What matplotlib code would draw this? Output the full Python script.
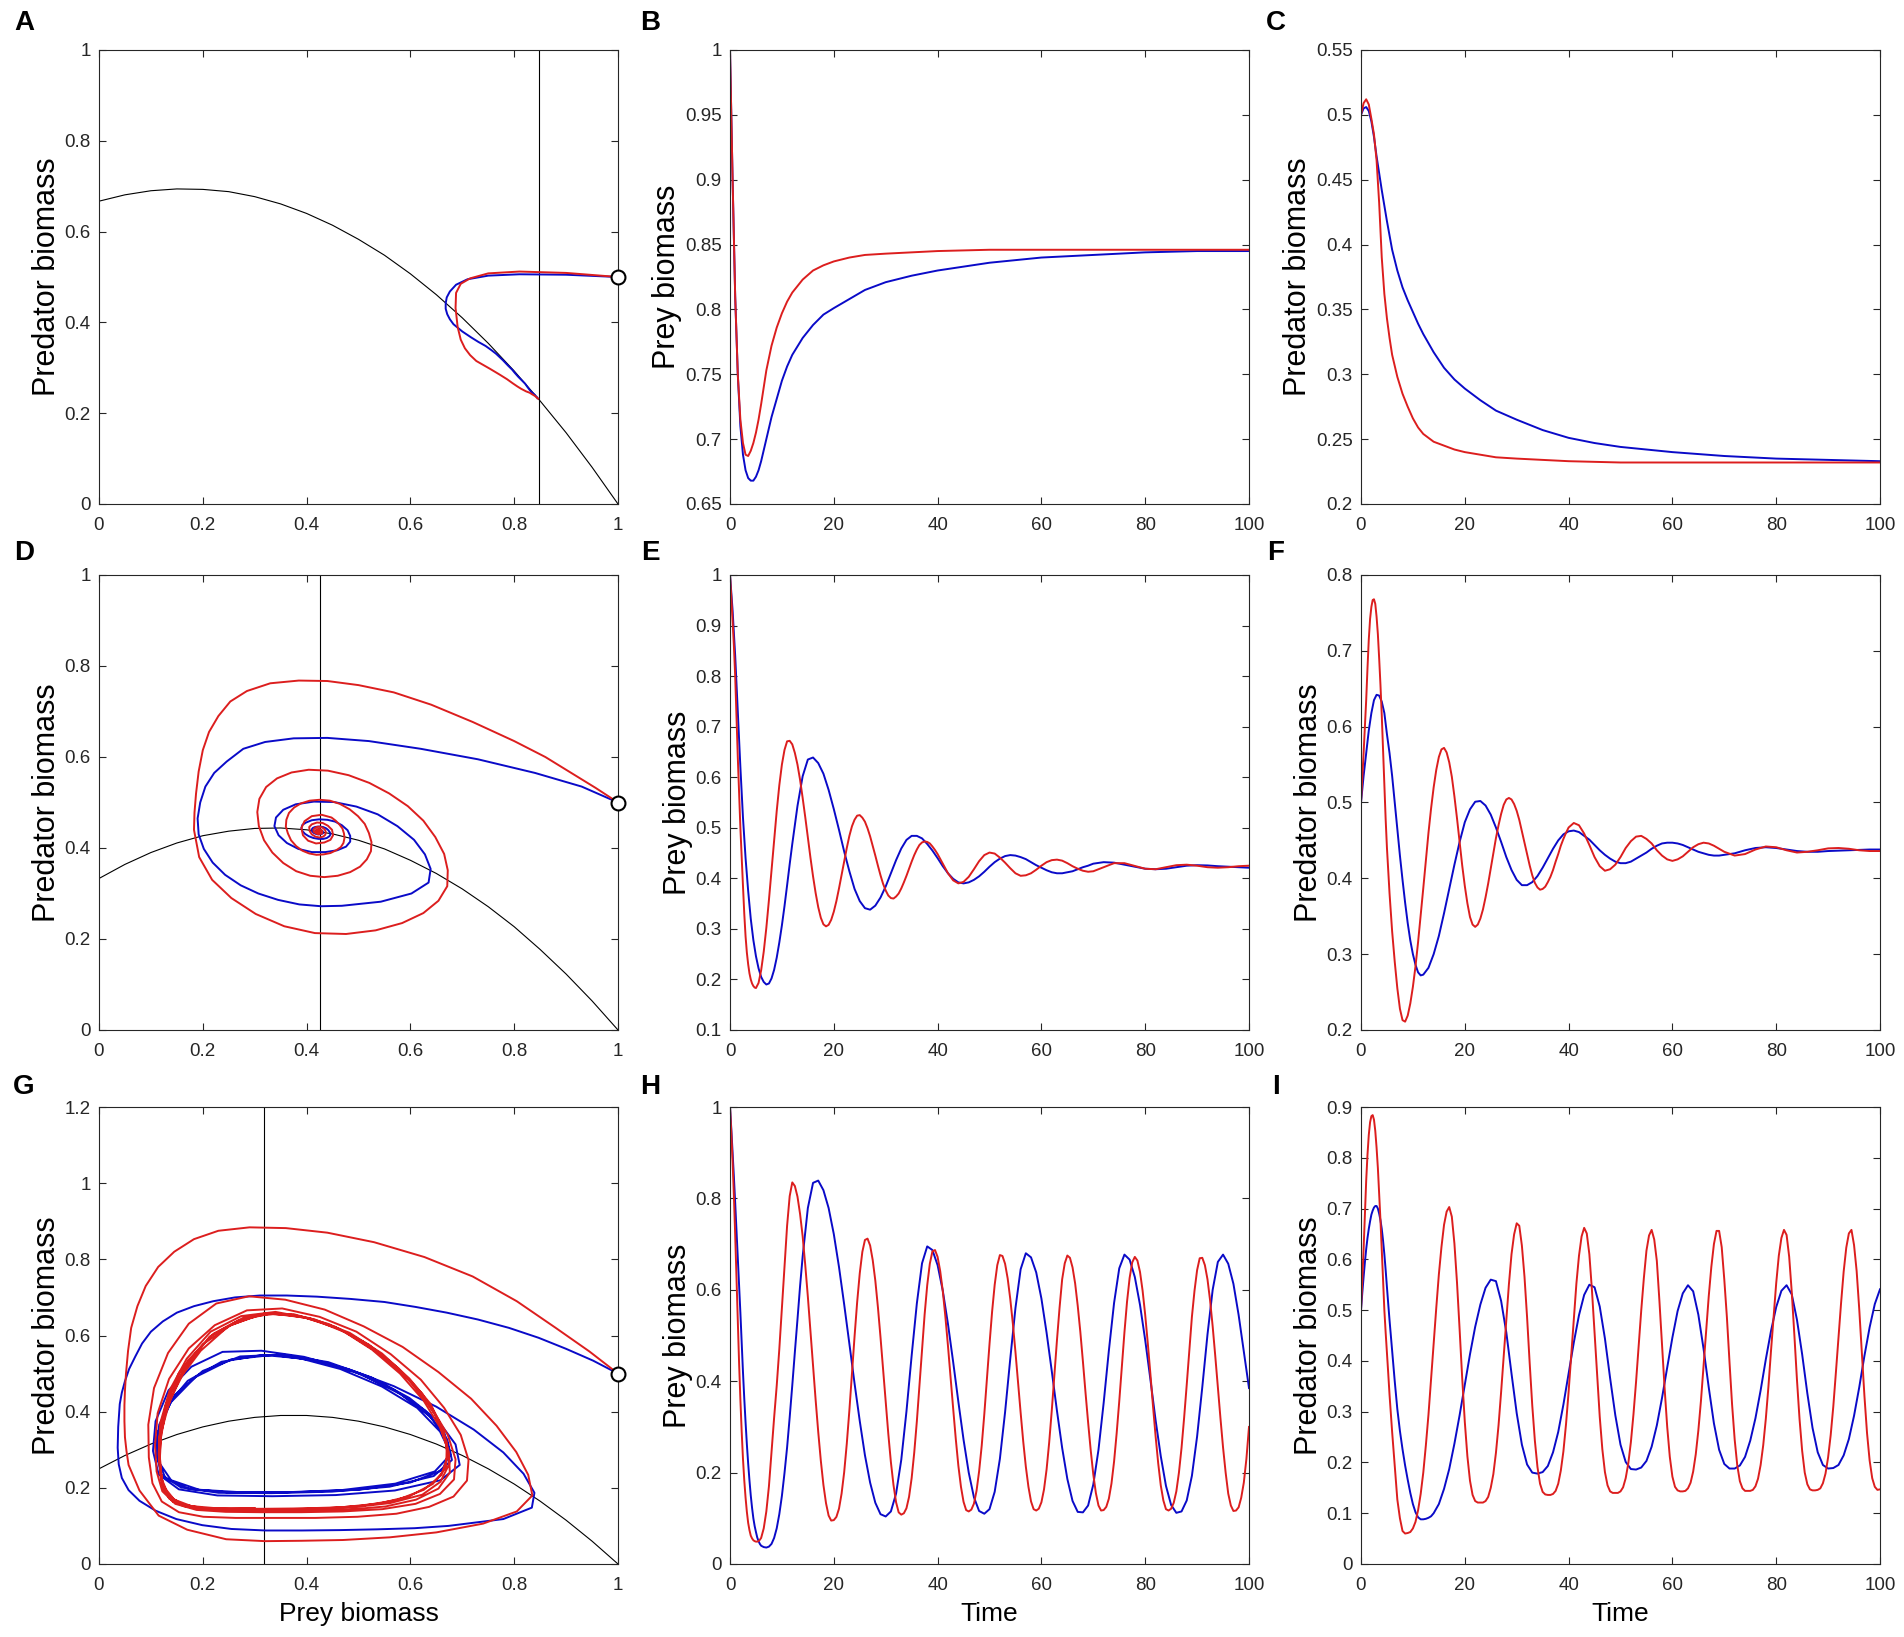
import numpy as np
import matplotlib
matplotlib.use("Agg")
import matplotlib.pyplot as plt
from matplotlib.ticker import FuncFormatter

plt.rcParams['font.family'] = ['Liberation Sans', 'DejaVu Sans']

RED = '#dc1e1e'
BLUE = '#0a0ac8'
DARK = '#262626'

# ---------------- data ----------------
# prey nullcline, sampled every 0.05 on the prey axis
null_x = [0, 0.05, 0.1, 0.15, 0.2, 0.25, 0.3, 0.35, 0.4, 0.45, 0.5,
          0.55, 0.6, 0.65, 0.7, 0.75, 0.8, 0.85, 0.9, 0.95, 1.0]
null_y1 = [0.667, 0.681, 0.69, 0.694, 0.693, 0.688, 0.677, 0.661, 0.64, 0.614, 0.583,
           0.548, 0.507, 0.461, 0.41, 0.354, 0.293, 0.227, 0.157, 0.081, 0.0]
null_y2 = [0.333, 0.364, 0.39, 0.411, 0.427, 0.437, 0.443, 0.444, 0.44, 0.431, 0.417,
           0.398, 0.373, 0.344, 0.31, 0.271, 0.227, 0.177, 0.123, 0.064, 0.0]
null_y3 = [0.25, 0.285, 0.315, 0.34, 0.36, 0.375, 0.385, 0.39, 0.39, 0.385, 0.375,
           0.36, 0.34, 0.315, 0.285, 0.25, 0.21, 0.165, 0.115, 0.06, 0.0]
pred_null_x = [0.847, 0.425, 0.318]   # vertical (predator) nullclines

# ---- row 1 (A, B, C) ----
t1 = [0, 0.5, 1, 1.5, 2, 2.5, 3, 3.5, 4, 4.5, 5, 5.5, 6, 7, 8, 9, 10, 11, 12,
      14, 16, 18, 20, 23, 26, 30, 35, 40, 45, 50, 60, 70, 80, 90, 100]
prey1_red = [1.0, 0.90, 0.81, 0.75, 0.715, 0.697, 0.688, 0.687, 0.691, 0.697, 0.705,
             0.715, 0.727, 0.753, 0.772, 0.786, 0.797, 0.806, 0.813, 0.823, 0.83,
             0.834, 0.837, 0.84, 0.842, 0.843, 0.844, 0.845, 0.8455, 0.846, 0.846,
             0.846, 0.846, 0.846, 0.846]
pred1_red = [0.5, 0.509, 0.512, 0.508, 0.497, 0.485, 0.465, 0.432, 0.39, 0.362, 0.343,
             0.328, 0.315, 0.298, 0.285, 0.275, 0.266, 0.259, 0.254, 0.248, 0.245,
             0.242, 0.24, 0.238, 0.236, 0.235, 0.234, 0.233, 0.2325, 0.232, 0.232,
             0.232, 0.232, 0.232, 0.232]
prey1_blue = [1.0, 0.90, 0.81, 0.75, 0.71, 0.688, 0.676, 0.67, 0.668, 0.668, 0.671,
              0.676, 0.683, 0.70, 0.717, 0.731, 0.745, 0.756, 0.765, 0.778, 0.788,
              0.796, 0.801, 0.808, 0.815, 0.821, 0.826, 0.83, 0.833, 0.836, 0.84,
              0.842, 0.844, 0.845, 0.845]
pred1_blue = [0.5, 0.505, 0.506, 0.503, 0.495, 0.483, 0.468, 0.455, 0.442, 0.43, 0.418,
              0.407, 0.396, 0.38, 0.367, 0.357, 0.348, 0.339, 0.331, 0.317, 0.305,
              0.296, 0.289, 0.28, 0.272, 0.265, 0.257, 0.251, 0.247, 0.244, 0.24,
              0.237, 0.235, 0.234, 0.233]

# ---- row 2 (D, E, F) ----
t2_red = np.concatenate([np.arange(0, 5.25, 0.25), np.arange(5.5, 40.5, 0.5),
                         np.arange(41, 71), np.arange(72, 101, 2)])
prey2_red = [1.0, 0.957, 0.91, 0.86, 0.80, 0.72, 0.64, 0.568, 0.50, 0.44, 0.385, 0.33,
             0.285, 0.253, 0.23, 0.212, 0.2, 0.192, 0.187, 0.184, 0.183,
             0.193, 0.218, 0.255, 0.302, 0.357, 0.416, 0.476, 0.533, 0.584, 0.625,
             0.654, 0.671, 0.672, 0.665,
             0.648, 0.625, 0.595, 0.559, 0.521, 0.481, 0.441, 0.404, 0.371, 0.343,
             0.322, 0.309, 0.305, 0.308, 0.318, 0.334, 0.355, 0.38, 0.407, 0.434,
             0.46, 0.484, 0.503, 0.516, 0.524, 0.525, 0.52, 0.512, 0.499, 0.483,
             0.464, 0.445, 0.425, 0.406, 0.389, 0.376, 0.366, 0.361, 0.36, 0.364,
             0.37, 0.38, 0.392, 0.405, 0.419, 0.433, 0.446, 0.457, 0.466, 0.471,
             0.473, 0.472, 0.469, 0.463, 0.456, 0.448,
             0.429, 0.41, 0.396, 0.39, 0.393, 0.403, 0.418, 0.434, 0.446, 0.451,
             0.449, 0.441, 0.431, 0.42, 0.41, 0.405, 0.406, 0.41, 0.417, 0.425,
             0.432, 0.436, 0.437, 0.435, 0.43, 0.424, 0.419, 0.415, 0.413, 0.414,
             0.422, 0.43, 0.43, 0.4245, 0.419, 0.418, 0.422, 0.426, 0.427, 0.425,
             0.422, 0.421, 0.422, 0.424, 0.425]
pred2_red = [0.5, 0.532, 0.565, 0.6, 0.635, 0.677, 0.715, 0.742, 0.758, 0.767, 0.768,
             0.762, 0.745, 0.722, 0.69, 0.655, 0.615, 0.568, 0.52, 0.478, 0.44,
             0.38, 0.33, 0.29, 0.255, 0.228, 0.213, 0.211, 0.219, 0.235, 0.257,
             0.284, 0.316, 0.351, 0.387,
             0.424, 0.46, 0.492, 0.52, 0.543, 0.56, 0.57, 0.572, 0.566, 0.553,
             0.534, 0.508, 0.479, 0.448, 0.417, 0.39, 0.367, 0.349, 0.339, 0.336,
             0.339, 0.347, 0.359, 0.375, 0.393, 0.413, 0.433, 0.453, 0.47, 0.485,
             0.497, 0.504, 0.506, 0.504, 0.498, 0.489, 0.477, 0.462, 0.447, 0.432,
             0.417, 0.404, 0.394, 0.388, 0.385, 0.386, 0.389, 0.395, 0.402, 0.411,
             0.422, 0.432, 0.443, 0.452, 0.46, 0.467,
             0.473, 0.47, 0.459, 0.444, 0.428, 0.416, 0.41, 0.412, 0.418, 0.428,
             0.44, 0.449, 0.455, 0.456, 0.452, 0.446, 0.437, 0.43, 0.425, 0.423,
             0.425, 0.429, 0.435, 0.441, 0.445, 0.447, 0.446, 0.443, 0.439, 0.435,
             0.43, 0.432, 0.438, 0.442, 0.441, 0.437, 0.434, 0.435, 0.437, 0.4395,
             0.44, 0.439, 0.437, 0.436, 0.436]

t2_blue = np.concatenate([np.arange(0, 12.5, 0.5), np.arange(13, 71), np.arange(72, 101, 2)])
prey2_blue = [1.0, 0.93, 0.84, 0.73, 0.62, 0.52, 0.44, 0.375, 0.32, 0.278, 0.246, 0.222,
              0.205, 0.195, 0.19, 0.192, 0.202, 0.219, 0.243, 0.273, 0.307, 0.345, 0.386,
              0.428, 0.468,
              0.543, 0.602, 0.635, 0.639, 0.628, 0.607, 0.575, 0.537, 0.496, 0.453,
              0.414, 0.379, 0.355, 0.341, 0.338, 0.346, 0.362, 0.384, 0.41, 0.436,
              0.459, 0.476, 0.484, 0.484, 0.479, 0.468, 0.455, 0.44, 0.424, 0.41,
              0.399, 0.392, 0.39, 0.392, 0.397, 0.404, 0.413, 0.423, 0.432, 0.439,
              0.444, 0.446, 0.445, 0.442, 0.438, 0.432, 0.426, 0.421, 0.416, 0.412,
              0.41, 0.41, 0.412, 0.414, 0.418, 0.422, 0.425, 0.429,
              0.432, 0.431, 0.427, 0.423, 0.419, 0.418, 0.419, 0.422, 0.425, 0.426,
              0.4255, 0.424, 0.423, 0.422, 0.421]
pred2_blue = [0.5, 0.535, 0.565, 0.595, 0.618, 0.635, 0.642, 0.641, 0.633, 0.618, 0.59,
              0.565, 0.535, 0.5, 0.465, 0.43, 0.398, 0.368, 0.341, 0.318, 0.3, 0.286,
              0.276, 0.272, 0.273,
              0.282, 0.3, 0.324, 0.354, 0.386, 0.418, 0.448, 0.474, 0.491, 0.501,
              0.502, 0.496, 0.484, 0.467, 0.448, 0.428, 0.411, 0.398, 0.391, 0.391,
              0.395, 0.403, 0.414, 0.4265, 0.439, 0.45, 0.458, 0.462, 0.463, 0.461,
              0.456, 0.451, 0.444, 0.437, 0.431, 0.426, 0.422, 0.42, 0.42, 0.422,
              0.426, 0.43, 0.434, 0.439, 0.443, 0.446, 0.447, 0.447, 0.446, 0.444,
              0.441, 0.438, 0.435, 0.433, 0.431, 0.43, 0.43, 0.431,
              0.433, 0.437, 0.44, 0.441, 0.44, 0.438, 0.436, 0.435, 0.435, 0.436,
              0.4365, 0.437, 0.4375, 0.438, 0.438]

# ---- row 3 (G, H, I) ----
t3_red = np.concatenate([np.arange(0, 6.25, 0.25), np.arange(6.5, 100.5, 0.5)])
prey3_red = [1.0, 0.945, 0.88, 0.805, 0.72, 0.627, 0.53, 0.44, 0.36, 0.29, 0.23, 0.183,
             0.145, 0.114, 0.09, 0.074, 0.062, 0.056, 0.052, 0.05, 0.049, 0.049, 0.05,
             0.053, 0.057,
             0.078, 0.115, 0.17, 0.245, 0.32, 0.39, 0.47, 0.56, 0.65, 0.74, 0.805,
             0.835, 0.827, 0.804, 0.766, 0.717,
             0.654, 0.585, 0.51, 0.435, 0.359, 0.289, 0.226, 0.173, 0.133, 0.106,
             0.095, 0.096, 0.103, 0.121, 0.154, 0.201, 0.263, 0.336, 0.417, 0.498,
             0.573, 0.636, 0.683, 0.709, 0.712, 0.697, 0.665, 0.62, 0.562, 0.496,
             0.425, 0.353, 0.285, 0.223, 0.173, 0.135, 0.113, 0.108, 0.111, 0.122,
             0.147, 0.188, 0.244, 0.312, 0.39, 0.47, 0.546, 0.61, 0.657, 0.684,
             0.687, 0.672, 0.641, 0.597, 0.541, 0.477, 0.408, 0.34, 0.274, 0.215,
             0.169, 0.136, 0.118, 0.115, 0.119, 0.132, 0.16, 0.203, 0.259, 0.328,
             0.404, 0.481, 0.552, 0.611, 0.654, 0.676, 0.674, 0.657, 0.625, 0.58,
             0.526, 0.464, 0.397, 0.331, 0.268, 0.213, 0.169, 0.137, 0.12, 0.117,
             0.121, 0.135, 0.163, 0.207, 0.266, 0.336, 0.413, 0.49, 0.561, 0.623,
             0.658, 0.675, 0.67, 0.649, 0.614, 0.565, 0.508, 0.443, 0.375, 0.31,
             0.249, 0.196, 0.155, 0.128, 0.117, 0.118, 0.125, 0.143, 0.176, 0.224,
             0.286, 0.356, 0.433, 0.507, 0.574, 0.626, 0.66, 0.672, 0.664, 0.639,
             0.598, 0.545, 0.483, 0.416, 0.346, 0.28, 0.221, 0.172, 0.139, 0.12,
             0.117, 0.121, 0.134, 0.159, 0.2, 0.254, 0.32, 0.392, 0.468, 0.541,
             0.598, 0.643, 0.669, 0.67, 0.654, 0.623, 0.577, 0.52, 0.455, 0.387,
             0.319, 0.255, 0.2, 0.154, 0.128, 0.116, 0.117, 0.124, 0.145, 0.178,
             0.23, 0.30]
pred3_red = [0.5, 0.558, 0.62, 0.69, 0.755, 0.806, 0.845, 0.87, 0.882, 0.884, 0.875,
             0.853, 0.82, 0.78, 0.73, 0.677, 0.62, 0.56, 0.5, 0.456, 0.417, 0.375,
             0.333, 0.296, 0.26,
             0.193, 0.127, 0.09, 0.065, 0.06, 0.061, 0.063, 0.07, 0.083, 0.106, 0.138,
             0.18, 0.234, 0.294, 0.363, 0.434,
             0.504, 0.57, 0.624, 0.668, 0.694, 0.703, 0.684, 0.631, 0.554, 0.462,
             0.366, 0.28, 0.212, 0.164, 0.136, 0.124, 0.121, 0.121, 0.121, 0.124,
             0.132, 0.15, 0.177, 0.219, 0.273, 0.339, 0.41, 0.484, 0.551, 0.61,
             0.649, 0.671, 0.666, 0.627, 0.566, 0.486, 0.396, 0.312, 0.243, 0.191,
             0.158, 0.142, 0.137, 0.136, 0.136, 0.138, 0.144, 0.158, 0.184, 0.222,
             0.275, 0.339, 0.41, 0.483, 0.552, 0.607, 0.645, 0.662, 0.651, 0.61,
             0.539, 0.456, 0.37, 0.29, 0.226, 0.181, 0.155, 0.143, 0.14, 0.14,
             0.14, 0.143, 0.151, 0.169, 0.198, 0.24, 0.295, 0.359, 0.43, 0.5,
             0.563, 0.617, 0.647, 0.658, 0.639, 0.597, 0.518, 0.432, 0.346, 0.27,
             0.211, 0.172, 0.152, 0.145, 0.143, 0.143, 0.144, 0.149, 0.16, 0.182,
             0.216, 0.263, 0.321, 0.39, 0.46, 0.527, 0.585, 0.63, 0.656, 0.656,
             0.624, 0.56, 0.486, 0.398, 0.314, 0.245, 0.194, 0.163, 0.149, 0.144,
             0.144, 0.144, 0.146, 0.153, 0.168, 0.195, 0.234, 0.286, 0.349, 0.42,
             0.487, 0.553, 0.607, 0.642, 0.658, 0.648, 0.605, 0.535, 0.451, 0.363,
             0.285, 0.223, 0.18, 0.157, 0.147, 0.145, 0.145, 0.146, 0.149, 0.159,
             0.178, 0.21, 0.254, 0.31, 0.377, 0.447, 0.514, 0.576, 0.623, 0.651,
             0.658, 0.628, 0.577, 0.502, 0.415, 0.331, 0.258, 0.204, 0.169, 0.152,
             0.146, 0.147]

t3_blue = np.concatenate([np.arange(0, 6.25, 0.25), np.arange(6.5, 14.5, 0.5),
                          np.arange(15, 101)])
prey3_blue = [1.0, 0.952, 0.9, 0.847, 0.79, 0.73, 0.67, 0.61, 0.55, 0.485, 0.42, 0.362,
              0.31, 0.262, 0.22, 0.183, 0.15, 0.123, 0.1, 0.083, 0.07, 0.058, 0.05,
              0.044, 0.04,
              0.037, 0.036, 0.038, 0.044, 0.057, 0.078, 0.109, 0.149, 0.199, 0.255,
              0.321, 0.391, 0.464, 0.535, 0.608, 0.673,
              0.779, 0.834, 0.839, 0.818, 0.779, 0.722, 0.65, 0.568, 0.482, 0.395,
              0.313, 0.238, 0.178, 0.134, 0.109, 0.104, 0.115, 0.154, 0.228, 0.334,
              0.456, 0.57, 0.658, 0.695, 0.687, 0.654, 0.598, 0.525, 0.442, 0.355,
              0.272, 0.2, 0.146, 0.116, 0.11, 0.12, 0.158, 0.23, 0.332, 0.449,
              0.56, 0.645, 0.68, 0.671, 0.638, 0.581, 0.506, 0.422, 0.335, 0.254,
              0.186, 0.138, 0.114, 0.113, 0.128, 0.174, 0.25, 0.353, 0.467, 0.571,
              0.647, 0.677, 0.666, 0.628, 0.567, 0.49, 0.404, 0.315, 0.236, 0.171,
              0.129, 0.112, 0.115, 0.139, 0.193, 0.279, 0.387, 0.502, 0.6, 0.661,
              0.677, 0.657, 0.613, 0.545, 0.465, 0.385]
pred3_blue = [0.5, 0.534, 0.565, 0.594, 0.62, 0.642, 0.66, 0.675, 0.688, 0.696, 0.702,
              0.705, 0.705, 0.7, 0.69, 0.677, 0.66, 0.637, 0.61, 0.579, 0.545, 0.512,
              0.48, 0.45, 0.42,
              0.36, 0.305, 0.262, 0.226, 0.194, 0.166, 0.14, 0.118, 0.102, 0.092,
              0.088, 0.088, 0.089, 0.091, 0.094, 0.1,
              0.118, 0.148, 0.187, 0.237, 0.293, 0.353, 0.413, 0.467, 0.511, 0.544,
              0.56, 0.557, 0.518, 0.456, 0.375, 0.297, 0.235, 0.196, 0.18, 0.178,
              0.181, 0.193, 0.22, 0.26, 0.314, 0.375, 0.436, 0.49, 0.53, 0.55,
              0.545, 0.507, 0.444, 0.366, 0.293, 0.235, 0.201, 0.187, 0.186, 0.19,
              0.203, 0.231, 0.273, 0.327, 0.387, 0.446, 0.498, 0.533, 0.549, 0.537,
              0.491, 0.424, 0.348, 0.277, 0.225, 0.197, 0.188, 0.188, 0.194, 0.211,
              0.243, 0.287, 0.342, 0.403, 0.459, 0.506, 0.538, 0.549, 0.531, 0.481,
              0.413, 0.336, 0.268, 0.22, 0.195, 0.188, 0.189, 0.195, 0.214, 0.246,
              0.292, 0.348, 0.41, 0.466, 0.512, 0.541]

rows = [
    dict(t_r=t1, t_b=t1, prey_r=prey1_red, pred_r=pred1_red, prey_b=prey1_blue,
         pred_b=pred1_blue, null_y=null_y1, xstar=pred_null_x[0],
         phase_ylim=(0, 1), prey_ylim=(0.65, 1), prey_ystep=0.05,
         pred_ylim=(0.2, 0.55), pred_ystep=0.05),
    dict(t_r=t2_red, t_b=t2_blue, prey_r=prey2_red, pred_r=pred2_red, prey_b=prey2_blue,
         pred_b=pred2_blue, null_y=null_y2, xstar=pred_null_x[1],
         phase_ylim=(0, 1), prey_ylim=(0.1, 1), prey_ystep=0.1,
         pred_ylim=(0.2, 0.8), pred_ystep=0.1),
    dict(t_r=t3_red, t_b=t3_blue, prey_r=prey3_red, pred_r=pred3_red, prey_b=prey3_blue,
         pred_b=pred3_blue, null_y=null_y3, xstar=pred_null_x[2],
         phase_ylim=(0, 1.2), prey_ylim=(0, 1), prey_ystep=0.2,
         pred_ylim=(0, 0.9), pred_ystep=0.1),
]
letters = [['A', 'B', 'C'], ['D', 'E', 'F'], ['G', 'H', 'I']]

# ---------------- layout (pixel boxes of the original) ----------------
W, H = 1904, 1637
col_px = [(99, 618), (730, 1249), (1361, 1880)]
row_px = [(50, 504), (575, 1030), (1107, 1564)]
letter_x = [24, 650, 1276]
letter_y = [23, 553, 1087]

fig = plt.figure(figsize=(W / 100, H / 100), dpi=100)
fmt = FuncFormatter(lambda v, p: '%g' % round(v, 4))


def style(ax, xlim, ylim, xticks, yticks):
    ax.set_xlim(*xlim)
    ax.set_ylim(*ylim)
    ax.set_xticks(xticks)
    ax.set_yticks(yticks)
    ax.xaxis.set_major_formatter(fmt)
    ax.yaxis.set_major_formatter(fmt)
    ax.tick_params(direction='in', length=5, width=0.8, top=True, right=True,
                   labelsize=13.5, colors=DARK, pad=6)
    ax.tick_params(axis='x', pad=9)
    for s in ax.spines.values():
        s.set_linewidth(0.8)
        s.set_color(DARK)


for i, r in enumerate(rows):
    y0, y1 = row_px[i]
    axes = []
    for j in range(3):
        x0, x1 = col_px[j]
        ax = fig.add_axes([x0 / W, 1 - y1 / H, (x1 - x0) / W, (y1 - y0) / H])
        axes.append(ax)
        fig.text(letter_x[j] / W, 1 - letter_y[i] / H, letters[i][j], fontsize=20,
                 fontweight='bold', ha='center', va='center')

    # phase plane
    ax = axes[0]
    ax.plot(null_x, r['null_y'], color='black', lw=0.8)
    ax.axvline(r['xstar'], color='black', lw=0.8)
    ax.plot(r['prey_b'], r['pred_b'], color=BLUE, lw=1.4)
    ax.plot(r['prey_r'], r['pred_r'], color=RED, lw=1.4)
    ax.plot(r['prey_r'][0], r['pred_r'][0], 'o', ms=10, mfc='white', mec='black',
            mew=1.5, clip_on=False, zorder=5)
    lo, hi = r['phase_ylim']
    style(ax, (0, 1), (lo, hi), np.arange(0, 1.01, 0.2), np.arange(lo, hi + 1e-6, 0.2))
    ax.set_ylabel('Predator biomass', fontsize=22, labelpad=2)

    # prey vs time
    ax = axes[1]
    ax.plot(r['t_b'], r['prey_b'], color=BLUE, lw=1.4)
    ax.plot(r['t_r'], r['prey_r'], color=RED, lw=1.4)
    lo, hi = r['prey_ylim']
    style(ax, (0, 100), (lo, hi), np.arange(0, 101, 20),
          np.arange(lo, hi + 1e-6, r['prey_ystep']))
    ax.set_ylabel('Prey biomass', fontsize=22, labelpad=2)

    # predator vs time
    ax = axes[2]
    ax.plot(r['t_b'], r['pred_b'], color=BLUE, lw=1.4)
    ax.plot(r['t_r'], r['pred_r'], color=RED, lw=1.4)
    lo, hi = r['pred_ylim']
    style(ax, (0, 100), (lo, hi), np.arange(0, 101, 20),
          np.arange(lo, hi + 1e-6, r['pred_ystep']))
    ax.set_ylabel('Predator biomass', fontsize=22, labelpad=2)

    if i == 2:
        axes[0].set_xlabel('Prey biomass', fontsize=19, labelpad=6)
        axes[1].set_xlabel('Time', fontsize=19, labelpad=6)
        axes[2].set_xlabel('Time', fontsize=19, labelpad=6)

plt.savefig('out.png', dpi=100)
